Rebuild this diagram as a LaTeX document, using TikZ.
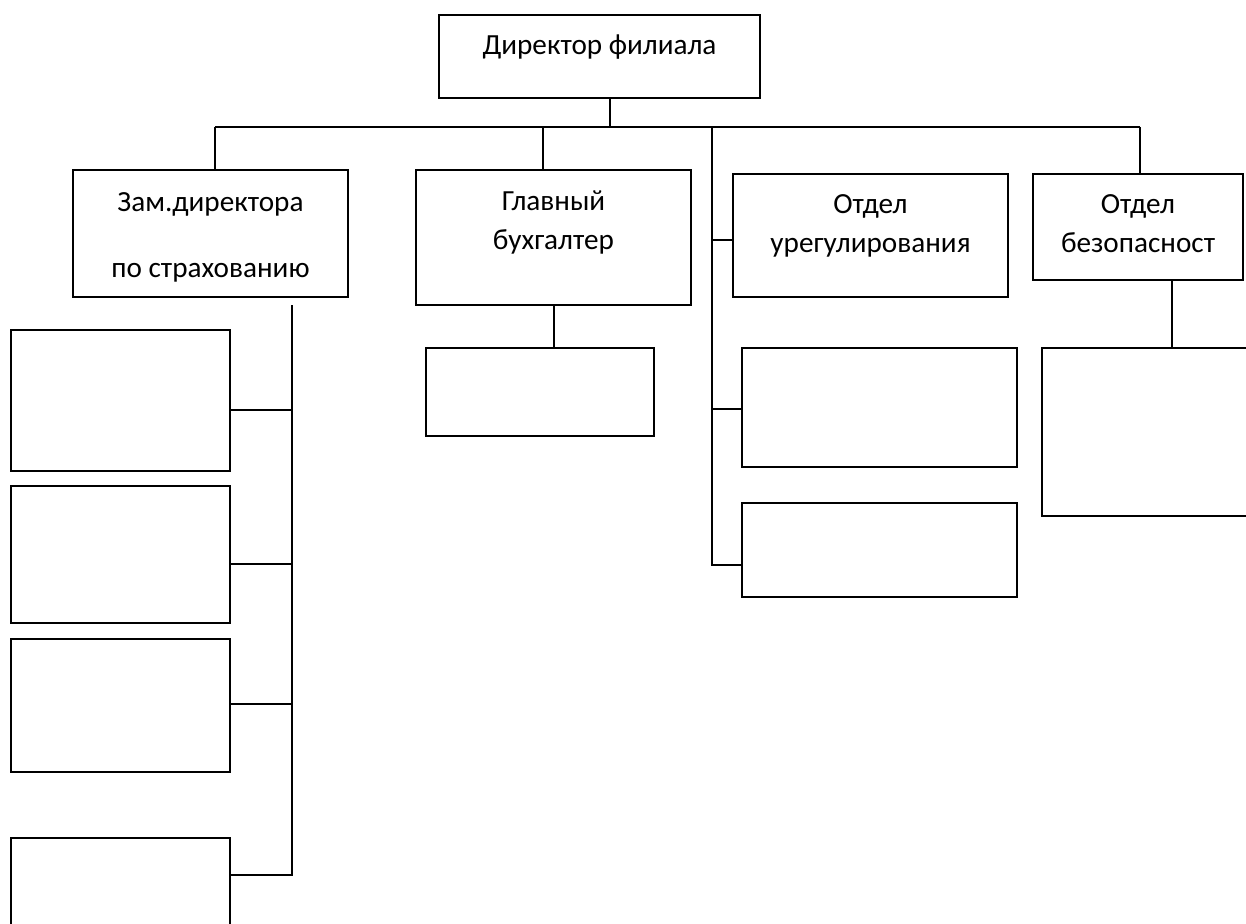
\documentclass[tikz,border=0pt]{standalone}
\usepackage{fontspec}
\setmainfont{Carlito}
\usetikzlibrary{positioning}

\begin{document}
\begin{tikzpicture}[x=0.5pt,y=-0.5pt,on grid,line width=0.9pt]

      \tikzset{unit/.style={draw,rectangle,inner sep=0pt,align=center,
          font=\fontsize{14.6pt}{19.5pt}\selectfont},
        blank/.style={draw,rectangle,inner sep=0pt}}
      \fill[white,use as bounding box] (0,0) rectangle (1246,924);
      \clip (0,0) rectangle (1246,924);

      \node[unit,minimum width=160.5pt,text height=20pt,text depth=21.5pt] (dir) at (599.5,56.5) {Директор филиала};
      \node[unit,minimum width=137.5pt,text height=54pt,text depth=9.5pt] (zam) [below left = 88.5pt and 194.5pt of dir] {Зам.директора\\[13.5pt]по страхованию};
      \node[unit,minimum width=137.5pt,text height=40pt,text depth=27.5pt] (glav) [below left = 90.5pt and 23pt of dir] {Главный\\бухгалтер};
      \node[unit,minimum width=137.5pt,text height=39.5pt,text depth=22pt] (ureg) [below right = 89.5pt and 135.5pt of dir] {Отдел\\урегулирования};
      \node[unit,minimum width=105pt,text height=39.5pt,text depth=13.5pt] (bez) [above right = 4.25pt and 133.75pt of ureg] {Отдел\\безопасност};

      \node[blank,minimum width=109.5pt,minimum height=70.5pt] (zam1) [below left = 83.5pt and 45pt of zam] {};
      \node[blank,minimum width=109.5pt,minimum height=68.5pt] (zam2) [below = 77pt of zam1] {};
      \node[blank,minimum width=109.5pt,minimum height=66.5pt] (zam3) [below = 75.5pt of zam2] {};
      \node[blank,minimum width=109.5pt,minimum height=68.5pt] (zam4) [below = 100.5pt of zam3] {};
      \node[blank,minimum width=114pt,minimum height=44pt] (glav1) [below left = 77.25pt and 6.75pt of glav] {};
      \node[blank,minimum width=137.5pt,minimum height=59.5pt] (ureg1) [below right = 86pt and 4.5pt of ureg] {};
      \node[blank,minimum width=137.5pt,minimum height=47pt] (ureg2) [below = 71.25pt of ureg1] {};
      \node[blank,minimum width=130pt,minimum height=84pt] (bez1) [below right = 102.5pt and 17pt of bez] {};

      \coordinate (busL) at (215,127);
      \coordinate (busR) at (1140,127);
      \coordinate (trunk) at (610,127);
      \coordinate (glavbus) at (543,127);
      \coordinate (uregbus) at (712,127);
      \coordinate (zamtop) at (292,305);
      \coordinate (glavdown) at (554,305);

      \path[draw]
      (busL) -- (busR)
      (dir.south -| trunk) -- (trunk)
      (busL) -- (busL |- zam.north)
      (glavbus) -- (glavbus |- glav.north)
      (busR) -- (busR |- bez.north)
      (glavdown) -- (glavdown |- glav1.north)
      (bez1.north) -- (bez1.north |- bez.south)
      ([yshift=-2.25pt]ureg.west) -| (uregbus)
      ([yshift=-0.75pt]ureg1.west) -| (uregbus)
      ([yshift=-7.5pt]ureg2.west) -| (uregbus)
      ([yshift=-4.75pt]zam1.east) -| (zamtop)
      ([yshift=-4.75pt]zam2.east) -| (zamtop)
      ([yshift=0.75pt]zam3.east) -| (zamtop)
      ([yshift=15.75pt]zam4.east) -| (zamtop)
      ;
    \end{tikzpicture}
\end{document}
